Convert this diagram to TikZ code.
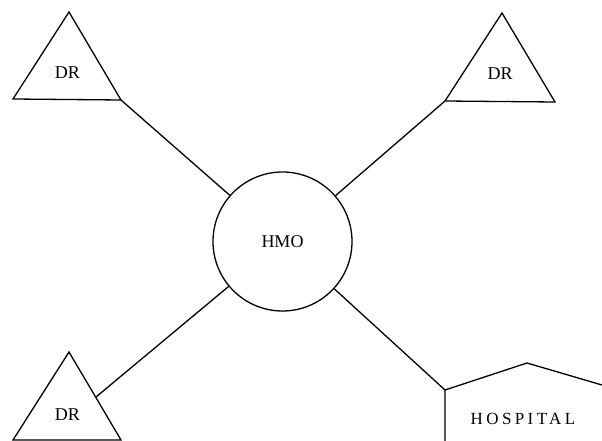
\documentclass[tikz,border=0pt]{standalone}
\usepackage{fontspec}
\setmainfont{Liberation Serif}
\newfontfamily\spacedfont[LetterSpace=20]{Liberation Serif}

\begin{document}
\begin{tikzpicture}[x=1pt,y=-1pt,line width=1.3pt,
        txt/.style={inner sep=0pt,font=\fontsize{18}{21}\selectfont},
        office/.style={line join=miter}]
        \useasboundingbox (0,0) rectangle (602,441);

        % HMO in the middle
        \node[circle,draw,minimum size=139pt,inner sep=0pt,txt] (hmo) at (282.5,241.5) {HMO};

        % doctors
        \draw[office] (69,12) -- (121,100) coordinate (tlport) -- (13,99) -- cycle;
        \node[txt] (tl) at (67.5,73) {DR};

        \draw[office] (502,13) -- (555,102) -- (445,101) coordinate (trport) -- cycle;
        \node[txt] (tr) at (500,74) {DR};

        \draw[office] (69,352) -- (121,440) -- (13,440) -- cycle;
        \coordinate (blport) at (96,397);
        \node[txt] (bl) at (67.5,415) {DR};

        % hospital
        \draw[office] (445,441) -- (445,390) coordinate (hport) -- (527,363) -- (602,385);
        \node[inner sep=0pt,font=\spacedfont\fontsize{17}{20}\selectfont] (hosp) at (523,419) {HOSPITAL};

        % links
        \draw (hmo) -- (tlport);
        \draw (hmo) -- (trport);
        \draw (hmo) -- (blport);
        \draw (hmo) -- (hport);
    \end{tikzpicture}
\end{document}
